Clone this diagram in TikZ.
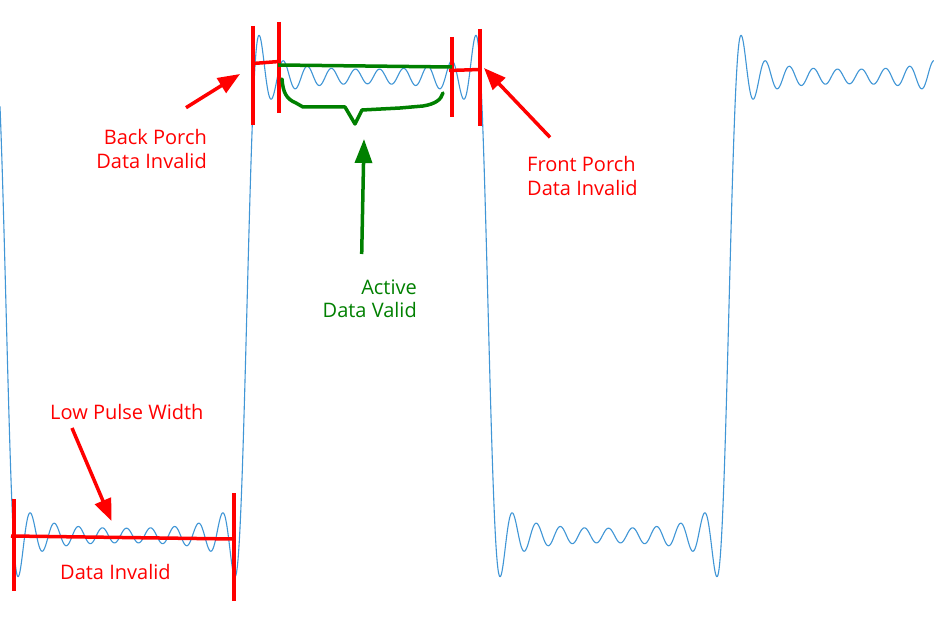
\documentclass[tikz,border=0pt]{standalone}
\usepackage{fontspec}
\setmainfont{Open Sans}
\usetikzlibrary{arrows.meta}
\definecolor{wave}{RGB}{64,150,214}
\definecolor{mred}{RGB}{255,0,0}
\definecolor{mgreen}{RGB}{0,128,0}
\begin{document}
\begin{tikzpicture}[x=1pt,y=-1pt,
  declare function={th(\x)=(\x-247)*0.746888;
    sq(\t)=sin(\t)+sin(3*\t)/3+sin(5*\t)/5+sin(7*\t)/7+sin(9*\t)/9+sin(11*\t)/11+sin(13*\t)/13+sin(15*\t)/15+sin(17*\t)/17+sin(19*\t)/19;},
  lbl/.style={font=\fontsize{20}{24}\selectfont, inner sep=0pt},
  annot/.style={line width=3.5pt, draw=mred},
  redarrow/.style={annot, -{Triangle[length=22pt,width=17pt]}},
  greenline/.style={line width=3.5pt, draw=mgreen},
  greenarrow/.style={greenline, -{Triangle[length=24pt,width=17pt]}}]
\useasboundingbox (0,0) rectangle (934,620);
\fill[white] (0,0) rectangle (934,620);
% signal
\draw[wave, line width=1.1pt, line join=round] plot[domain=0:934, samples=1500] (\x, {306 - 292.2*sq(th(\x))});
% coordinates
\coordinate (bpA) at (253,26);  \coordinate (bpB) at (253,125);
\coordinate (bpC) at (279,22);  \coordinate (bpD) at (279,113);
\coordinate (bpL) at (253,63.5); \coordinate (bpR) at (279,61.5);
\coordinate (fpA) at (452,37);  \coordinate (fpB) at (452,117);
\coordinate (fpC) at (480,29);  \coordinate (fpD) at (480,126);
\coordinate (fpL) at (449,70.5); \coordinate (fpR) at (480,69.5);
\coordinate (lpA) at (14,499);  \coordinate (lpB) at (14,591);
\coordinate (lpC) at (234,493); \coordinate (lpD) at (234,601);
\coordinate (lpL) at (11,536);  \coordinate (lpR) at (234,539);
\coordinate (avL) at (278,65);  \coordinate (avR) at (452,67);
\coordinate (bpTail) at (186,107.7); \coordinate (bpTip) at (240,74);
\coordinate (fpTail) at (550,137.3); \coordinate (fpTip) at (484,68);
\coordinate (lpTail) at (72,428); \coordinate (lpTip) at (111.5,521);
\coordinate (avTail) at (361.7,254); \coordinate (avTip) at (364,139);
% red markers
\draw[annot] (bpA) -- (bpB);
\draw[annot] (bpC) -- (bpD);
\draw[annot] (bpL) -- (bpR);
\draw[annot] (fpA) -- (fpB);
\draw[annot] (fpC) -- (fpD);
\draw[annot] (fpL) -- (fpR);
\draw[annot] (lpA) -- (lpB);
\draw[annot] (lpC) -- (lpD);
\draw[annot] (lpL) -- (lpR);
% green marker and brace
\draw[greenline] (avL) -- (avR);
\draw[greenline, line join=round, line cap=round] (282,79) .. controls (283,92) and (286,99) .. (296,103) -- (303,107) -- (345,107) -- (355,124) -- (362,110) -- (400,108) -- (423,106) .. controls (435,104) and (441,100) .. (443,93);
% arrows
\draw[redarrow] (bpTail) -- (bpTip);
\draw[redarrow] (fpTail) -- (fpTip);
\draw[redarrow] (lpTail) -- (lpTip);
\draw[greenarrow] (avTail) -- (avTip);
% labels
\node[lbl, text=mred, align=right, anchor=east] (bp) at (207,149) {Back Porch\\Data Invalid};
\node[lbl, text=mred, align=left, anchor=west] (fp) at (527,176.5) {Front Porch\\Data Invalid};
\node[lbl, font=\fontsize{20}{23}\selectfont, text=mgreen, align=right, anchor=east] (av) at (417,299) {Active\\Data Valid};
\node[lbl, text=mred, anchor=base west] (lp) at (50,419) {Low Pulse Width};
\node[lbl, text=mred, anchor=base west] (di) at (60,579) {Data Invalid};
\end{tikzpicture}
\end{document}
